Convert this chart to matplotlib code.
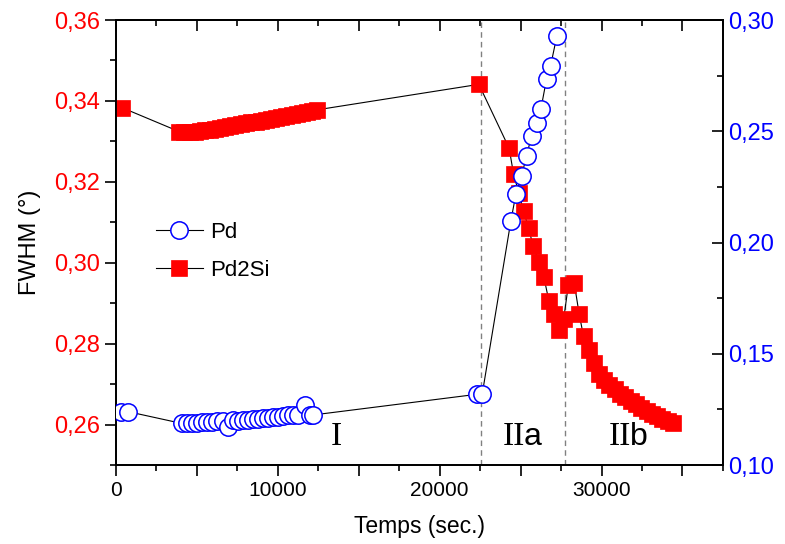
import matplotlib
matplotlib.use("Agg")
import matplotlib.pyplot as plt
from matplotlib.ticker import MultipleLocator, FuncFormatter

# Pd2Si peak width (left axis)
t_pd2si = [410,
           3930, 4245, 4560, 4875, 5190, 5505, 5820, 6135, 6450, 6765, 7080, 7395, 7710, 8025,
           8340, 8655, 8970, 9285, 9600, 9915, 10230, 10545, 10860, 11175, 11490, 11805, 12120, 12440,
           22426, 24296, 24568, 24895, 25185, 25494, 25778, 26148, 26438, 26747, 27056, 27364,
           27660, 27950, 28310, 28620, 28889, 29216, 29525, 29834,
           30160, 30488, 30815, 31142, 31469, 31796, 32123, 32451, 32778, 33105, 33432, 33759,
           34086, 34414]
fwhm_pd2si = [0.3383,
              0.3324, 0.3323, 0.3323, 0.3324, 0.3325, 0.3327, 0.3329, 0.3331, 0.3333, 0.3335, 0.3337,
              0.3340, 0.3342, 0.3345, 0.3347, 0.3349, 0.3351, 0.3353, 0.3355, 0.3358, 0.3360, 0.3362,
              0.3365, 0.3367, 0.3369, 0.3372, 0.3375, 0.3378,
              0.3441, 0.3283, 0.3219, 0.3172, 0.3128, 0.3086, 0.3041, 0.3001, 0.2965, 0.2906, 0.2873,
              0.2834, 0.2860, 0.2945, 0.2951, 0.2873, 0.2818, 0.2784, 0.2751, 0.2724,
              0.2710, 0.2698, 0.2687, 0.2676, 0.2667, 0.2658, 0.2650, 0.2642, 0.2634, 0.2627, 0.2621,
              0.2614, 0.2608, 0.2603]

# Pd peak width (right axis)
t_pd = [350, 750,
        4072, 4381, 4690, 4998, 5307, 5615, 5924, 6233, 6644, 6953, 7261, 7570, 7879, 8187,
        8496, 8804, 9113, 9422, 9730, 10039, 10348, 10656, 10965, 11274, 11685, 11994, 12200,
        22321, 22630, 24401, 24710, 25062, 25370, 25679, 25988, 26253, 26605, 26852, 27241]
fwhm_pd = [0.1240, 0.1240,
           0.1187, 0.1187, 0.1187, 0.1190, 0.1192, 0.1193, 0.1195, 0.1196, 0.1199, 0.1172, 0.1202,
           0.1199, 0.1202, 0.1204, 0.1205, 0.1208, 0.1210, 0.1213, 0.1214, 0.1217, 0.1220, 0.1223,
           0.1225, 0.1226, 0.1270, 0.1226, 0.1225,
           0.1318, 0.1318, 0.2097, 0.2217, 0.2300, 0.2389, 0.2480, 0.2538, 0.2599, 0.2735, 0.2793,
           0.2928]

stage_bounds = [22530, 27735]
# roman part in serif, letter suffix in sans
stage_roman = ["I", "II", "II"]
stage_suffix = ["", "a", "b"]
stage_label_x = [13600, 25300, 31850]

plt.rcParams['font.family'] = ['Liberation Sans', 'DejaVu Sans']

fig = plt.figure(figsize=(7.85, 5.44), dpi=100)
ax = fig.add_axes([0.1474, 0.1452, 0.7736, 0.8180])
ax2 = ax.twinx()

def comma(v, pos):
    return ("%.2f" % v).replace('.', ',')

for xb in stage_bounds:
    ax.axvline(xb, color='#808080', ls=(0, (4, 3)), lw=1.0, zorder=1)

ax.plot(t_pd2si, fwhm_pd2si, color='black', lw=0.8, marker='s', ms=11,
        mfc='#ff0000', mec='#ff0000', mew=0.5, label='Pd2Si', zorder=3)
ax2.plot(t_pd, fwhm_pd, color='black', lw=0.8, marker='o', ms=12.5,
         mfc='white', mec='#0000ff', mew=1.1, label='Pd', zorder=3)

ax.set_xlim(0, 37500)
ax.set_ylim(0.25, 0.36)
ax2.set_ylim(0.10, 0.30)

ax.xaxis.set_major_locator(MultipleLocator(5000))
ax.xaxis.set_minor_locator(MultipleLocator(2500))
ax.xaxis.set_major_formatter(FuncFormatter(lambda v, p: "%d" % v if v % 10000 == 0 else ""))
ax.yaxis.set_major_locator(MultipleLocator(0.02))
ax.yaxis.set_minor_locator(MultipleLocator(0.01))
ax.yaxis.set_major_formatter(FuncFormatter(comma))
ax2.yaxis.set_major_locator(MultipleLocator(0.05))
ax2.yaxis.set_minor_locator(MultipleLocator(0.025))
ax2.yaxis.set_major_formatter(FuncFormatter(comma))

ax.tick_params(axis='both', which='major', direction='out', length=8, width=1.2)
ax.tick_params(axis='both', which='minor', direction='out', length=4, width=1.2)
ax.tick_params(axis='x', labelsize=15)
ax.tick_params(axis='y', colors='black', labelcolor='#ff0000', labelsize=17)
ax2.tick_params(axis='y', which='major', direction='in', length=8, width=1.2,
                labelsize=17, labelcolor='#0000ff')
ax2.tick_params(axis='y', which='minor', direction='in', length=4, width=1.2)

top = ax.secondary_xaxis('top')
top.xaxis.set_major_locator(MultipleLocator(5000))
top.xaxis.set_minor_locator(MultipleLocator(2500))
top.tick_params(which='major', direction='in', length=8, width=1.2, labeltop=False)
top.tick_params(which='minor', direction='in', length=4, width=1.2)

for a in (ax, ax2):
    for s in a.spines.values():
        s.set_linewidth(1.3)
top.spines['top'].set_linewidth(1.3)

ax.set_xlabel("Temps (sec.)", fontsize=16.5, labelpad=11)
ax.set_ylabel("FWHM (°)", fontsize=17, labelpad=9)

for lx, rom, suf in zip(stage_label_x, stage_roman, stage_suffix):
    if suf:
        t1 = ax.text(lx, 0.2569, rom, family='Liberation Serif', fontsize=24,
                     ha='right', va='center', zorder=5)
        ax.annotate(suf, xy=(1, 0), xycoords=t1, xytext=(-1, 0), textcoords='offset points',
                    fontsize=23, ha='left', va='bottom', zorder=5)
    else:
        ax.text(lx, 0.2569, rom, family='Liberation Serif', fontsize=24,
                ha='center', va='center', zorder=5)

h1, l1 = ax2.get_legend_handles_labels()
h2, l2 = ax.get_legend_handles_labels()
fig.legend(h1 + h2, l1 + l2, loc='upper left', bbox_to_anchor=(156 / 785, 1 - 222 / 544),
           frameon=False, fontsize=16, handlelength=2.1, handletextpad=0.35,
           labelspacing=0.75, borderpad=0, borderaxespad=0)

fig.savefig("out.png", dpi=100)
